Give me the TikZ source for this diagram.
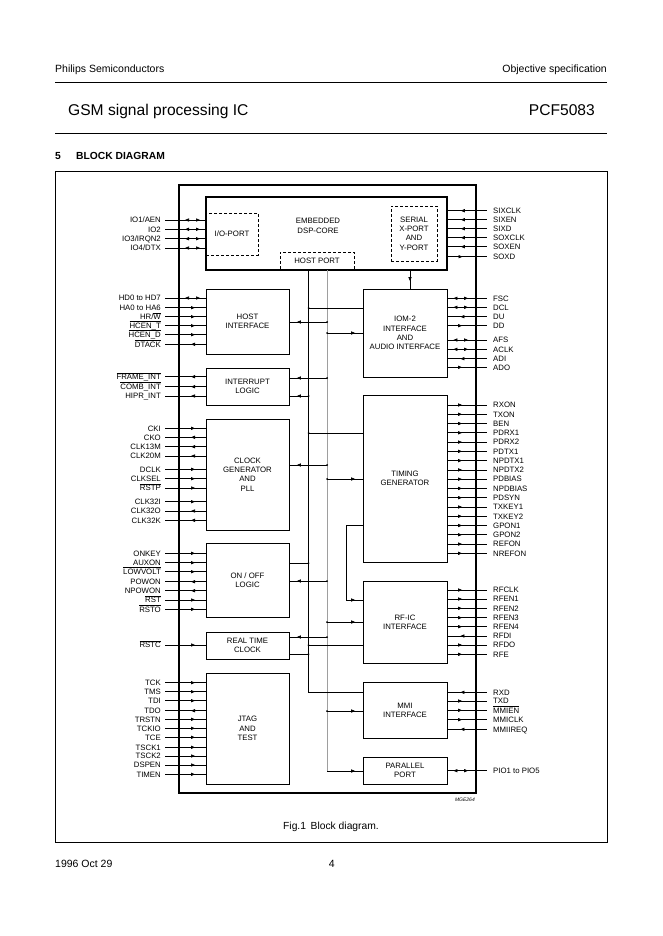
\documentclass[tikz,border=0pt]{standalone}
\usepackage{fontspec}
\setmainfont{Liberation Sans}
\usetikzlibrary{arrows.meta,decorations.markings}
\newcommand\ovl[1]{$\overline{\mbox{#1}}$}
\definecolor{busgray}{gray}{0.62}
\tikzset{
  lblfont/.style={font=\fontsize{7.8}{9.3}\selectfont},
  lpin/.style={lblfont,anchor=east,inner sep=0pt,text height=5.6pt,text depth=0pt},
  rpin/.style={lblfont,anchor=west,inner sep=0pt,text height=5.6pt,text depth=0pt},
  blk/.style={draw,line width=0.8pt,lblfont,align=center,inner sep=0pt},
  dashblk/.style={draw,dash pattern=on 3pt off 2pt,line width=0.7pt,lblfont,align=center,inner sep=0pt},
  wire/.style={line width=0.7pt},
  mk/.style={postaction={decorate,decoration={markings,#1}}},
  L-in/.style={mk={mark=at position 30pt with {\arrow{>}}}},
  L-out/.style={mk={mark=at position 26pt with {\arrowreversed{>}}}},
  L-bi/.style={mk={mark=at position 20pt with {\arrowreversed{>}},mark=at position 35pt with {\arrow{>}}}},
  R-in/.style={mk={mark=at position 13pt with {\arrowreversed{>}}}},
  R-out/.style={mk={mark=at position 14.7pt with {\arrow{>}}}},
  R-bi/.style={mk={mark=at position 6pt with {\arrowreversed{>}},mark=at position 20.7pt with {\arrow{>}}}},
  tobox/.style={mk={mark=at position -7.5pt with {\arrow{>}}}},
  hdr/.style={inner sep=0pt,font=\fontsize{10.5}{12}\selectfont},
}
\begin{document}
\begin{tikzpicture}[x=1pt,y=-1pt,>={Triangle[length=4pt,width=3.2pt]}]
\fill[white] (0,0) rectangle (663,936);
\useasboundingbox (0,0) rectangle (663,936);

% ---------- page header / footer ----------
\node[hdr,anchor=base west] (hl) at (55,73) {Philips Semiconductors};
\node[hdr,anchor=base east] (hr) at (607,73) {Objective specification};
\draw[line width=0.8pt] (55,82.5) -- (607,82.5);
\node[inner sep=0pt,anchor=base west,font=\fontsize{15.6}{18}\selectfont] (title) at (68,116) {GSM signal processing IC};
\node[inner sep=0pt,anchor=base east,font=\fontsize{15.6}{18}\selectfont] (part) at (595,116) {PCF5083};
\draw[line width=0.8pt] (55,133.5) -- (607,133.5);
\node[inner sep=0pt,anchor=base west,font=\bfseries\fontsize{10.3}{12}\selectfont] (secn) at (55,159.5) {5};
\node[inner sep=0pt,anchor=base west,font=\bfseries\fontsize{10.3}{12}\selectfont] (sect) at (76,159.5) {BLOCK DIAGRAM};
\draw[line width=0.8pt] (55,171) rectangle (607,842);
\node[inner sep=0pt,anchor=base east,font=\itshape\fontsize{5}{6}\selectfont] (mge) at (475,801.8) {MGE264};
\node[inner sep=0pt,anchor=base,font=\fontsize{10.3}{12}\selectfont] (cap) at (331,829.4) {Fig.1\hspace{0.45em}Block diagram.};
\node[hdr,anchor=base west] (fdate) at (55,867.7) {1996 Oct 29};
\node[hdr,anchor=base] (fpage) at (331.8,867.7) {4};

% ---------- chip outline ----------
\draw[line width=1.3pt] (179,185) rectangle (476,793);

% ---------- blocks ----------
\node[dashblk,minimum width=52pt,minimum height=42pt] (ioport) at (232,234) {I/O-PORT};
\node[dashblk,minimum width=46pt,minimum height=55pt] (serial) at (414,233.5) {SERIAL\\X-PORT\\AND\\Y-PORT};
\node[dashblk,minimum width=74pt,minimum height=18pt] (hostport) at (317,261) {HOST PORT};
\node[draw,line width=1.6pt,minimum width=241pt,minimum height=73pt,inner sep=0pt] (dsp) at (326.5,233.5) {};
\node[lblfont,align=center,inner sep=0pt] (dsptxt) at (318,226) {EMBEDDED\\DSP-CORE};

\node[blk,minimum width=83pt,minimum height=65pt] (hostif) at (247.5,321.5) {HOST\\INTERFACE};
\node[blk,minimum width=84pt,minimum height=88pt] (iom) at (405,333) {IOM-2\\INTERFACE\\AND\\AUDIO INTERFACE};
\node[blk,minimum width=83pt,minimum height=37pt] (intl) at (247.5,386.5) {INTERRUPT\\LOGIC};
\node[blk,minimum width=83pt,minimum height=111pt] (clk) at (247.5,474.5) {CLOCK\\GENERATOR\\AND\\PLL};
\node[blk,minimum width=84pt,minimum height=167pt] (timing) at (405,478.5) {TIMING\\GENERATOR};
\node[blk,minimum width=83pt,minimum height=74pt] (onoff) at (247.5,580) {ON / OFF\\LOGIC};
\node[blk,minimum width=83pt,minimum height=27pt] (rtc) at (247.5,645.5) {REAL TIME\\CLOCK};
\node[blk,minimum width=84pt,minimum height=82pt] (rfic) at (405,622) {RF-IC\\INTERFACE};
\node[blk,minimum width=83pt,minimum height=111pt] (jtag) at (247.5,728.5) {JTAG\\AND\\TEST};
\node[blk,minimum width=84pt,minimum height=56pt] (mmi) at (405,710) {MMI\\INTERFACE};
\node[blk,minimum width=84pt,minimum height=27pt] (par) at (405,770.5) {PARALLEL\\PORT};

% ---------- internal buses ----------
\coordinate (BB) at (308.5,0);
\coordinate (GB) at (327,0);
\draw[busgray,line width=0.8pt] (GB |- hostport.south) -- (GB |- 0,771);
\draw[wire,tobox] (GB |- 0,771) -- (par.west |- 0,771);
\draw[wire] (BB |- hostport.south) -- (BB |- 0,692) -- (mmi.west |- 0,692);

% serial port -> IOM
\draw[wire,tobox] (410,270) -- (iom.north -| 410,0);

% black-bus branches
\foreach \yy in {308,433,645}{\fill (BB |- 0,\yy) circle (1pt);}
\draw[wire] (BB |- 0,308) -- (iom.west |- 0,308);
\draw[wire] (BB |- 0,433) -- (timing.west |- 0,433);
\draw[wire] (BB |- 0,645) -- (rfic.west |- 0,645);
\draw[wire,tobox] (BB |- 0,396) -- (intl.east |- 0,396);
\fill (BB |- 0,396) circle (1pt);
\draw[wire] (onoff.east |- 0,563) -- (BB |- 0,563);
\fill (BB |- 0,563) circle (1pt);
\draw[wire] (rtc.east |- 0,654) -- (BB |- 0,654);
\fill (BB |- 0,654) circle (1pt);

% grey-bus branches
\draw[wire,tobox] (GB |- 0,322) -- (hostif.east |- 0,322);
\draw[wire,tobox] (GB |- 0,333) -- (iom.west |- 0,333);
\draw[wire,tobox] (GB |- 0,378) -- (intl.east |- 0,378);
\draw[wire,tobox] (GB |- 0,465) -- (clk.east |- 0,465);
\draw[wire,tobox] (GB |- 0,479) -- (timing.west |- 0,479);
\draw[wire,tobox] (GB |- 0,581) -- (onoff.east |- 0,581);
\draw[wire,tobox] (GB |- 0,622) -- (rfic.west |- 0,622);
\draw[wire,tobox] (GB |- 0,637) -- (rtc.east |- 0,637);
\draw[wire,tobox] (GB |- 0,711) -- (mmi.west |- 0,711);
\foreach \yy in {322,333,378,465,479,581,622,637,711}{\fill (GB |- 0,\yy) circle (1pt);}

% timing -> RF-IC
\draw[wire,tobox] (timing.west |- 0,525) -| (346,600) -- (rfic.west |- 0,600);

% ---------- left pins ----------
\foreach \t/\y/\d [count=\i] in {{IO1/AEN}/220/bi,IO2/229.3/bi,{IO3/IRQN2}/238.7/bi,{IO4/DTX}/248/bi}{
  \node[lpin] (La\i) at (161,\y) {\t};
  \draw[wire,L-\d] ([xshift=4pt]La\i.east) -- (La\i.east -| dsp.west);
}
\foreach \t/\y/\d [count=\i] in {HD0 to HD7/298/bi,HA0 to HA6/307.7/in,{HR/\ovl{W}}/316.7/in,{\ovl{HCEN\_T}}/325.7/in,{\ovl{HCEN\_D}}/334.7/in,{\ovl{DTACK}}/344.3/out}{
  \node[lpin] (Lb\i) at (161,\y) {\t};
  \draw[wire,L-\d] ([xshift=4pt]Lb\i.east) -- (Lb\i.east -| hostif.west);
}
\foreach \t/\y/\d [count=\i] in {{\ovl{FRAME\_INT}}/376.7/out,{\ovl{COMB\_INT}}/386.7/out,HIPR\_INT/396/out}{
  \node[lpin] (Lc\i) at (161,\y) {\t};
  \draw[wire,L-\d] ([xshift=4pt]Lc\i.east) -- (Lc\i.east -| intl.west);
}
\foreach \t/\y/\d [count=\i] in {CKI/428.3/in,CKO/437.3/out,CLK13M/446.7/out,CLK20M/456/out,DCLK/469.3/in,CLKSEL/478.7/in,{\ovl{RSTP}}/488/in,CLK32I/501.7/in,CLK32O/511/out,CLK32K/520.3/out}{
  \node[lpin] (Ld\i) at (161,\y) {\t};
  \draw[wire,L-\d] ([xshift=4pt]Ld\i.east) -- (Ld\i.east -| clk.west);
}
\foreach \t/\y/\d [count=\i] in {ONKEY/553.3/in,AUXON/562.7/in,{\ovl{LOWVOLT}}/571.7/in,POWON/581.7/out,NPOWON/590.7/out,{\ovl{RST}}/600/in,{\ovl{RSTO}}/609.3/in}{
  \node[lpin] (Le\i) at (161,\y) {\t};
  \draw[wire,L-\d] ([xshift=4pt]Le\i.east) -- (Le\i.east -| onoff.west);
}
\node[lpin] (Lf1) at (161,645) {\ovl{RSTC}};
\draw[wire,L-in] ([xshift=4pt]Lf1.east) -- (Lf1.east -| rtc.west);
\foreach \t/\y/\d [count=\i] in {TCK/682.7/in,TMS/691.7/in,TDI/700.7/in,TDO/710.7/out,TRSTN/719.3/in,TCKIO/728.3/in,TCE/737.3/in,TSCK1/747.3/in,TSCK2/756/in,DSPEN/765/in,TIMEN/774.3/in}{
  \node[lpin] (Lg\i) at (161,\y) {\t};
  \draw[wire,L-\d] ([xshift=4pt]Lg\i.east) -- (Lg\i.east -| jtag.west);
}

% ---------- right pins ----------
\foreach \t/\y/\d [count=\i] in {SIXCLK/210.7/in,SIXEN/219.7/in,SIXD/228.7/in,SOXCLK/237.7/in,SOXEN/246.7/in,SOXD/256.7/out}{
  \node[rpin] (Ra\i) at (493,\y) {\t};
  \draw[wire,R-\d] (dsp.east |- Ra\i.west) -- ([xshift=-6pt]Ra\i.west);
}
\foreach \t/\y/\d [count=\i] in {FSC/298.3/bi,DCL/307.3/bi,DU/316.7/in,DD/325.7/out,AFS/340/bi,ACLK/349.3/bi,ADI/358.7/in,ADO/367.3/out}{
  \node[rpin] (Rb\i) at (493,\y) {\t};
  \draw[wire,R-\d] (iom.east |- Rb\i.west) -- ([xshift=-6pt]Rb\i.west);
}
\foreach \t [count=\i from 0] in {RXON,TXON,BEN,PDRX1,PDRX2,PDTX1,NPDTX1,NPDTX2,PDBIAS,NPDBIAS,PDSYN,TXKEY1,TXKEY2,GPON1,GPON2,REFON,NREFON}{
  \pgfmathsetmacro\y{405+\i*9.27}
  \node[rpin] (Rc\i) at (493,\y) {\t};
  \draw[wire,R-out] (timing.east |- Rc\i.west) -- ([xshift=-6pt]Rc\i.west);
}
\foreach \t/\y/\d [count=\i] in {RFCLK/590/out,RFEN1/599/out,RFEN2/608.3/out,RFEN3/617.7/out,RFEN4/626.7/out,RFDI/636/in,RFDO/645/out,RFE/654.3/out}{
  \node[rpin] (Rd\i) at (493,\y) {\t};
  \draw[wire,R-\d] (rfic.east |- Rd\i.west) -- ([xshift=-6pt]Rd\i.west);
}
\foreach \t/\y/\d [count=\i] in {RXD/692.3/in,TXD/701/out,{\ovl{MMIEN}}/710.3/out,MMICLK/719.7/out,MMIIREQ/729.3/in}{
  \node[rpin] (Re\i) at (493,\y) {\t};
  \draw[wire,R-\d] (mmi.east |- Re\i.west) -- ([xshift=-6pt]Re\i.west);
}
\node[rpin] (Rf1) at (493,770.7) {PIO1 to PIO5};
\draw[wire,R-bi] (par.east |- Rf1.west) -- ([xshift=-6pt]Rf1.west);
\end{tikzpicture}
\end{document}
